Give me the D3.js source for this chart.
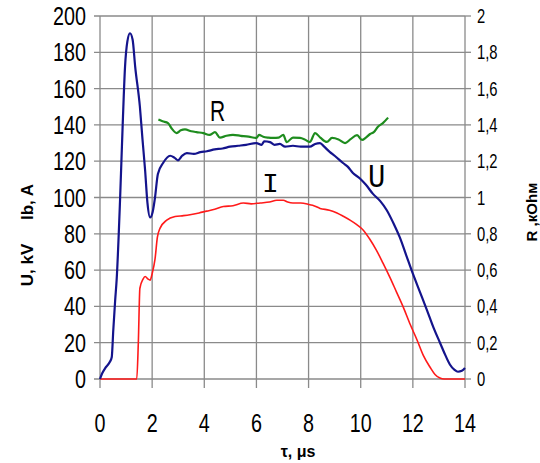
<!DOCTYPE html>
<html>
<head>
<meta charset="utf-8">
<script src="https://cdn.jsdelivr.net/npm/d3@7"></script>
<style>
  body { margin: 0; background: #fff; }
  svg { display: block; }
</style>
</head>
<body>
<div id="chart"></div>
<script>
// time axis, microseconds
var xTicks = [0, 2, 4, 6, 8, 10, 12, 14];
var leftTicks = [0, 20, 40, 60, 80, 100, 120, 140, 160, 180, 200];
var rightTicks = [0, 0.2, 0.4, 0.6, 0.8, 1, 1.2, 1.4, 1.6, 1.8, 2];

// U, kV
var uData = [[0,0],[0.08,3],[0.2,6],[0.38,9.5],[0.45,12],[0.51,27],[0.58,43],[0.64,55],[0.77,99],[0.87,140],
  [0.96,172],[1.05,186],[1.15,190.5],[1.25,187],[1.35,172],[1.53,150],[1.63,132],[1.73,115],[1.82,97],[1.92,89],
  [2.02,92],[2.11,100],[2.22,113],[2.42,119],[2.69,123],[2.85,122],[2.99,120.5],[3.15,123],[3.33,124.5],[3.6,124],
  [3.85,125],[4.1,125.5],[4.4,126.5],[4.7,127],[4.99,128],[5.3,128.5],[5.6,129],[6.0,130],[6.2,129],[6.3,131],
  [6.52,130.5],[6.7,129],[6.9,129.5],[7.1,128],[7.4,128.5],[7.7,128],[8.05,128],[8.25,129.5],[8.44,130],[8.6,128],
  [8.82,125],[9.0,123],[9.32,119],[9.5,117],[9.7,113.5],[9.97,110.5],[10.2,107],[10.47,102],[10.75,98],[11.0,93],
  [11.25,86],[11.5,78],[11.75,68],[12.0,58],[12.27,48],[12.54,38],[12.8,28],[13.04,20],[13.25,13],[13.42,8],
  [13.6,5],[13.73,4],[13.88,4.5],[14.0,6]];

// Ib, A
var iData = [[0,0],[1.41,0],[1.47,20],[1.53,50],[1.65,55],[1.73,56.5],[1.85,55],[1.92,54.5],[2.0,58],[2.11,66],
  [2.2,78],[2.3,83],[2.56,87.5],[2.88,89.5],[3.2,90],[3.45,90.5],[3.8,91.5],[4.09,92.5],[4.4,93.5],[4.73,95],
  [5.1,95.5],[5.5,97],[5.8,96.5],[6.14,97],[6.5,97.5],[6.78,98.5],[7.03,98.5],[7.2,97.5],[7.4,97],[7.7,97],
  [8.05,96],[8.2,95.5],[8.44,94],[8.8,93],[9.09,91.5],[9.35,89.5],[9.59,87.5],[9.85,85],[10.1,82],[10.35,77],
  [10.6,71],[10.85,64],[11.12,56],[11.37,48],[11.62,40],[11.9,30],[12.16,21.5],[12.4,13],[12.66,6.5],[12.85,2.5],
  [13.04,0.5],[13.2,0],[14,0]];

// R, kOhm
var rData = [[2.24,1.43],[2.4,1.42],[2.61,1.41],[2.75,1.38],[2.94,1.355],[3.1,1.37],[3.26,1.375],[3.5,1.365],
  [3.7,1.36],[3.96,1.355],[4.2,1.345],[4.41,1.36],[4.6,1.33],[4.85,1.34],[5.1,1.345],[5.4,1.34],[5.7,1.335],
  [6.0,1.328],[6.1,1.345],[6.26,1.335],[6.45,1.33],[6.65,1.328],[6.85,1.33],[7.03,1.345],[7.16,1.305],[7.4,1.33],
  [7.67,1.328],[7.85,1.32],[8.05,1.306],[8.25,1.355],[8.45,1.33],[8.7,1.306],[8.9,1.328],[9.15,1.32],[9.4,1.30],
  [9.6,1.32],[9.86,1.344],[10.05,1.317],[10.2,1.33],[10.36,1.35],[10.5,1.36],[10.66,1.39],[10.85,1.41],[11.05,1.44]];

var W = 540, H = 463;
var sans = "'Liberation Sans', Arial, sans-serif";

var svg = d3.select("#chart").append("svg")
    .attr("width", W)
    .attr("height", H);

var x = d3.scaleLinear().domain([0, 14]).range([100, 465]),
    y = d3.scaleLinear().domain([0, 200]).range([379, 16]),
    yR = d3.scaleLinear().domain([0, 2]).range([379, 16]);

// grid
svg.append("g").selectAll("line").data(leftTicks).enter().append("line")
    .attr("x1", x(0) - 6).attr("x2", x(14))
    .attr("y1", function(d) { return y(d); })
    .attr("y2", function(d) { return y(d); })
    .attr("stroke", "#8a8a8a").attr("stroke-width", 1.3);

svg.append("g").selectAll("line").data(xTicks).enter().append("line")
    .attr("x1", function(d) { return x(d); })
    .attr("x2", function(d) { return x(d); })
    .attr("y1", y(200)).attr("y2", y(0) + 9)
    .attr("stroke", "#8a8a8a").attr("stroke-width", 1.3);

// right axis ticks
svg.append("g").selectAll("line").data(rightTicks).enter().append("line")
    .attr("x1", x(14)).attr("x2", x(14) + 6)
    .attr("y1", function(d) { return yR(d); })
    .attr("y2", function(d) { return yR(d); })
    .attr("stroke", "#8a8a8a").attr("stroke-width", 1.3);

// tick labels, narrowed glyphs
svg.append("g").selectAll("text").data(leftTicks).enter().append("text")
    .attr("transform", function(d) { return "translate(86," + (y(d) + 9) + ") scale(0.79,1)"; })
    .attr("text-anchor", "end")
    .style("font-family", sans).style("font-size", "25px")
    .text(function(d) { return d; });

svg.append("g").selectAll("text").data(xTicks).enter().append("text")
    .attr("transform", function(d) { return "translate(" + x(d) + ",432) scale(0.79,1)"; })
    .attr("text-anchor", "middle")
    .style("font-family", sans).style("font-size", "25px")
    .text(function(d) { return d; });

svg.append("g").selectAll("text").data(rightTicks).enter().append("text")
    .attr("transform", function(d) { return "translate(477," + (yR(d) + 7) + ") scale(0.74,1)"; })
    .style("font-family", sans).style("font-size", "20px")
    .text(function(d) { return String(d).replace(".", ","); });

// axis titles
svg.append("text")
    .attr("transform", "translate(33,265) rotate(-90)")
    .attr("text-anchor", "middle")
    .style("font-family", sans)
    .style("font-size", "17px").style("font-weight", "bold")
    .text("U, kV");

svg.append("text")
    .attr("transform", "translate(33,202) rotate(-90)")
    .attr("text-anchor", "middle")
    .style("font-family", sans)
    .style("font-size", "17px").style("font-weight", "bold")
    .text("Ib, A");

svg.append("text")
    .attr("transform", "translate(537,212) rotate(-90)")
    .attr("text-anchor", "middle")
    .attr("textLength", 59).attr("lengthAdjust", "spacingAndGlyphs")
    .style("font-family", sans)
    .style("font-size", "15px").style("font-weight", "bold")
    .text("R ,кОhм");

svg.append("text")
    .attr("x", 298).attr("y", 457)
    .attr("text-anchor", "middle")
    .style("font-family", sans)
    .style("font-size", "16px").style("font-weight", "bold")
    .text("τ, μs");

// curves
var line = d3.line()
    .x(function(d) { return x(d[0]); })
    .y(function(d) { return y(d[1]); })
    .curve(d3.curveMonotoneX);

var lineR = d3.line()
    .x(function(d) { return x(d[0]); })
    .y(function(d) { return yR(d[1]); })
    .curve(d3.curveMonotoneX);

svg.append("path").datum(iData)
    .attr("d", line)
    .attr("fill", "none").attr("stroke", "#ff1a1a").attr("stroke-width", 1.6);

svg.append("path").datum(rData)
    .attr("d", lineR)
    .attr("fill", "none").attr("stroke", "#1e8c1e").attr("stroke-width", 2.2);

svg.append("path").datum(uData)
    .attr("d", line)
    .attr("fill", "none").attr("stroke", "#14148c").attr("stroke-width", 2.2);

// curve labels
svg.append("text")
    .attr("transform", "translate(210,121) scale(0.7,1)")
    .style("font-family", sans)
    .style("font-size", "30px")
    .text("R");

svg.append("text")
    .attr("transform", "translate(262,192)")
    .style("font-family", "'Liberation Mono', 'DejaVu Sans Mono', monospace")
    .style("font-size", "28px")
    .text("I");

svg.append("text")
    .attr("transform", "translate(368,187) scale(0.85,1)")
    .style("font-family", "'Liberation Mono', 'DejaVu Sans Mono', monospace")
    .style("font-size", "34px")
    .text("U");
</script>
</body>
</html>
